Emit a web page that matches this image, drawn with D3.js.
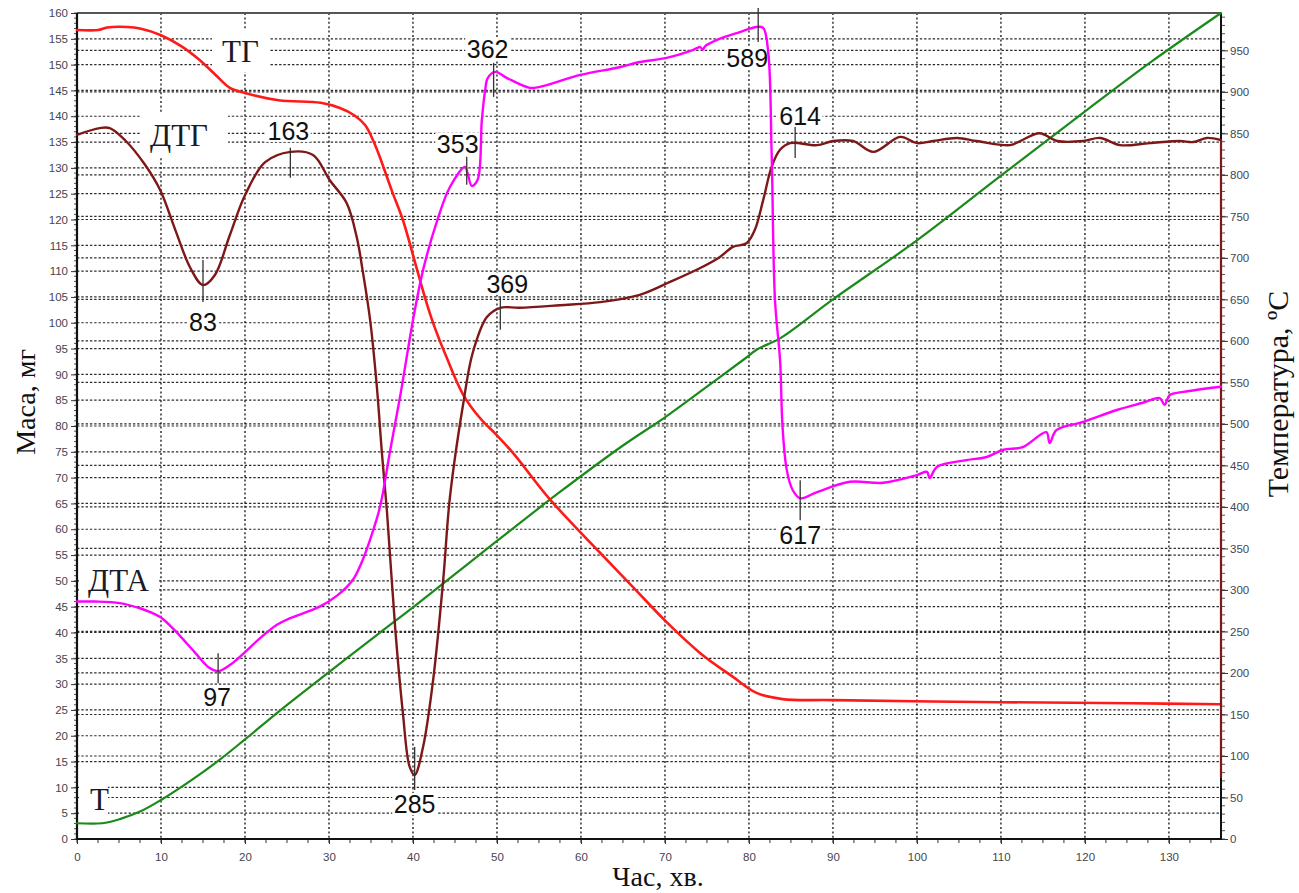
<!DOCTYPE html>
<html><head><meta charset="utf-8">
<script src="https://cdn.jsdelivr.net/npm/d3@7/dist/d3.min.js"></script>
<style>
html,body{margin:0;padding:0;background:#fff;}
svg{display:block;}
</style></head>
<body>
<svg id="chart" width="1299" height="893"></svg>
<script>
// ---------- DATA ----------
const timeTicks = [0,10,20,30,40,50,60,70,80,90,100,110,120,130];
const massTicks = d3.range(0,161,5);
const tempTicks = d3.range(0,951,50);

// TG (mass, mg) [time, value]
const tg = [[0,156.7],[2.5,156.7],[3.6,157.2],[6,157.3],[7.5,157],[10,155.7],[12.5,153.5],[14.6,150.9],[16.5,148],[18.2,145.5],[20,144.5],[24,143.1],[29,142.6],[31.3,141.6],[33,140.2],[34.3,138.3],[35.5,134.4],[36.3,131],[37.5,125.5],[38.8,119.9],[40.5,110.2],[41.5,104.5],[42.5,99.5],[44,93.3],[46,86],[48,81.5],[50,78.2],[52,74.6],[56.3,65.8],[62.3,55.4],[66.2,48.8],[70.2,42.0],[74.2,36],[78.1,31.4],[80.9,28.3],[84,27.1],[90,26.9],[110,26.5],[125.4,26.3],[136.2,26.1]];

// DTG (left-axis units); last point is the drop at the right edge
const dtg = [[0,136.4],[2.7,137.7],[3.9,137.7],[5.7,135.4],[8.1,130.6],[9.9,125.7],[11.7,118],[13.5,110.6],[15,107.3],[16.4,109.2],[18.2,117],[20,124.7],[22.4,131.1],[25.4,133.1],[28.1,132.5],[30.1,127.6],[32.1,123.2],[33.3,116.6],[34,110.2],[34.9,100.5],[35.7,87.6],[36.3,74.8],[36.9,63.5],[37.9,40.5],[38.8,24.4],[39.6,14],[40.2,12.4],[41.2,17.8],[42.4,30.8],[43.6,50.2],[44.4,66.2],[46,84.5],[47.1,94.1],[48.8,101.1],[50.4,102.9],[52.7,102.9],[57.5,103.4],[62.3,104],[67,105.4],[70.6,107.9],[74.2,110.6],[76.5,112.7],[78.1,114.7],[79.7,115.4],[80.7,118],[81.7,123.8],[82.7,130.2],[83.7,133.5],[84.9,134.8],[88.1,134.4],[90,135.2],[92.4,135.2],[94.8,133.1],[98,136],[100,134.8],[101.9,135.2],[104.8,135.8],[107.1,135.2],[111.1,134.4],[112.3,135.2],[114.6,136.7],[116.7,135.2],[119.8,135.2],[121.8,135.8],[124.2,134.4],[127.7,134.8],[131.3,135.2],[132.9,135],[134.5,135.8],[136.2,135.4],[136.2,12]];

// DTA (left-axis units)
const dta = [[0,46],[2.1,46],[5.1,45.7],[7.5,44.7],[8.8,43.9],[10,42.9],[11.7,40.3],[14,36.2],[15.8,33.1],[16.8,32.5],[18.2,33.7],[20,36.2],[21.8,38.9],[23.8,41.5],[25.4,42.8],[28.9,45],[31,47.2],[32.1,48.8],[33,50.6],[34,54],[35.2,59.5],[36.1,64.5],[37.3,75.4],[38.5,86],[40,100.5],[41.2,110.2],[42.9,119.9],[44.4,126.3],[46.2,130.2],[46.5,129],[47,126.5],[47.7,127.7],[48.2,139.3],[48.6,145.1],[48.9,147.4],[49.8,148.6],[51.2,147.4],[53.9,145.5],[55.1,145.7],[59.9,148],[64.6,149.5],[67,150.5],[70.2,151.3],[73.3,152.8],[74.2,153.4],[74.5,152.9],[74.8,153.6],[76.2,154.8],[78.9,156.3],[80.9,157.3],[81.7,157.1],[82.3,152.3],[82.7,132.9],[83.1,104.4],[83.7,92.8],[84,79.8],[84.5,71.5],[85.2,67.6],[86.1,66],[88.1,67.2],[92,69.2],[96,69],[100,70.5],[101.2,71.1],[101.5,69.9],[102.4,72.1],[105.9,73.4],[108.3,74],[110.3,75.4],[112.6,75.9],[115.4,78.8],[115.8,76.7],[116.6,79.2],[119.8,80.8],[123.8,83.1],[126.9,84.5],[128.9,85.4],[129.5,84.1],[130.1,86],[131.7,86.6],[136.2,87.6]];

// T (temperature, °C, right axis)
const temp = [[0,19],[3,19],[5.1,24],[7.5,33],[10,47],[13.5,70],[16.8,94],[20,120],[24.2,155],[30,201],[36,248],[40,279],[45,319],[50,359],[57.5,418],[65,474],[70,508],[75,545],[79.3,577],[81,590],[83.7,603],[90,650],[100,721],[110,799],[120.6,881],[128,937],[136.2,995]];

// Peak annotations: time, value (left units), label
const peakTimes  = [15, 25.4, 16.8, 40.2, 46.4, 49.6, 81.1, 85.5, 50.4, 86.1];
const peakValues = [107.3, 133.1, 32.5, 12.4, 130.2, 148.6, 157.3, 134.8, 102.9, 66];
const peakLabels = ["83","163","97","285","353","362","589","614","369","617"];

// Curve names
const seriesNames = ["ТГ","ДТГ","ДТА","Т"];

// ---------- LAYOUT ----------
const L = 77, R = 1221, T = 13, B = 839;
const svg = d3.select("#chart");
const x = d3.scaleLinear().domain([0,136.2]).range([L,R]);
const yL = d3.scaleLinear().domain([0,160]).range([B,T]);
const yR = d3.scaleLinear().domain([0,995]).range([B,T]);

// grid
const grid = svg.append("g");
grid.selectAll("line.hl").data(massTicks.filter(d=>d>0&&d<160)).enter().append("line")
  .attr("x1",L).attr("x2",R).attr("y1",d=>yL(d)).attr("y2",d=>yL(d))
  .attr("stroke","#2a2a2a").attr("stroke-width",1.2).attr("stroke-dasharray","2.4,1.9");
grid.selectAll("line.hr").data(tempTicks.filter(d=>d>0)).enter().append("line")
  .attr("x1",L).attr("x2",R).attr("y1",d=>yR(d)).attr("y2",d=>yR(d))
  .attr("stroke","#2a2a2a").attr("stroke-width",1.2).attr("stroke-dasharray","2.4,1.9");
grid.selectAll("line.v").data(timeTicks.filter(d=>d>0)).enter().append("line")
  .attr("y1",T).attr("y2",B).attr("x1",d=>x(d)).attr("x2",d=>x(d))
  .attr("stroke","#111").attr("stroke-width",1.3).attr("stroke-dasharray","2,2.4");

// label layout (pixel offsets relative to the peak point)
const peakLayout = {
  "83":{t1:-25,t2:17,dx:0,dy:46},
  "163":{t1:-4,t2:26,dx:-2,dy:-12},
  "97":{t1:-18,t2:12,dx:-1,dy:35},
  "285":{t1:-28,t2:15,dx:0,dy:38},
  "353":{t1:-10,t2:18,dx:-9,dy:-14},
  "362":{t1:-9,t2:25,dx:-6,dy:-14},
  "589":{t1:-19,t2:15,dx:-11,dy:40},
  "614":{t1:-16,t2:15,dx:5,dy:-18},
  "369":{t1:-11,t2:22,dx:7,dy:-15},
  "617":{t1:-18,t2:22,dx:0,dy:46}
};
const nameLayout = {
  "ТГ":{x:222,y:62,box:[212,30,58,42]},
  "ДТГ":{x:150,y:146,box:[140,112,88,46]},
  "ДТА":{x:88,y:591,box:[79,562,80,36]},
  "Т":{x:90,y:810,box:[79,780,29,38]}
};

// white boxes behind texts
const boxes = svg.append("g");
seriesNames.forEach(n=>{
  const b = nameLayout[n].box;
  boxes.append("rect").attr("x",b[0]).attr("y",b[1]).attr("width",b[2]).attr("height",b[3]).attr("fill","#fff");
});
peakLabels.forEach((lab,i)=>{
  const p = peakLayout[lab];
  const cx = x(peakTimes[i]) + p.dx, by = yL(peakValues[i]) + p.dy;
  const w = lab.length*13.6 + 4;
  boxes.append("rect").attr("x",cx-w/2).attr("y",by-20).attr("width",w).attr("height",22).attr("fill","#fff");
});

// axes
const axG = svg.append("g").attr("font-family","'DejaVu Sans', Verdana, sans-serif");
function styleAxis(g){
  g.select(".domain").remove();
  g.selectAll("text").attr("fill","#45454f").attr("font-size","11.5px");
  g.selectAll("line").attr("stroke","#333");
}
const minorB = d3.range(0,136.2,2.5);
axG.selectAll("line.mb").data(minorB).enter().append("line")
  .attr("x1",d=>x(d)).attr("x2",d=>x(d)).attr("y1",B).attr("y2",B+4).attr("stroke","#333");
const minorL = d3.range(0,160.1,1);
axG.selectAll("line.ml").data(minorL).enter().append("line")
  .attr("y1",d=>yL(d)).attr("y2",d=>yL(d)).attr("x1",L-3).attr("x2",L).attr("stroke","#555");
const minorR = d3.range(0,995,10);
axG.selectAll("line.mr").data(minorR).enter().append("line")
  .attr("y1",d=>yR(d)).attr("y2",d=>yR(d)).attr("x1",R).attr("x2",R+4).attr("stroke","#555");

axG.append("g").attr("transform",`translate(0,${B})`)
  .call(d3.axisBottom(x).tickValues(timeTicks).tickSize(5).tickPadding(9)).call(styleAxis);
axG.append("g").attr("transform",`translate(${L},0)`)
  .call(d3.axisLeft(yL).tickValues(massTicks).tickSize(6).tickPadding(3)).call(styleAxis);
axG.append("g").attr("transform",`translate(${R},0)`)
  .call(d3.axisRight(yR).tickValues(tempTicks).tickSize(7).tickPadding(2)).call(styleAxis);

// frame
svg.append("line").attr("x1",L).attr("x2",R).attr("y1",T).attr("y2",T).attr("stroke","#555").attr("stroke-width",2);
svg.append("line").attr("x1",R).attr("x2",R).attr("y1",T).attr("y2",B).attr("stroke","#111").attr("stroke-width",2);
svg.append("line").attr("x1",L).attr("x2",L).attr("y1",T).attr("y2",B+1).attr("stroke","#111").attr("stroke-width",2.2);
svg.append("line").attr("x1",L-1).attr("x2",R+1).attr("y1",B).attr("y2",B).attr("stroke","#111").attr("stroke-width",2.2);

// curves
const curve = d3.curveCatmullRom.alpha(0.5);
const lineL = d3.line().x(d=>x(d[0])).y(d=>yL(d[1])).curve(curve);
const lineLs = d3.line().x(d=>x(d[0])).y(d=>yL(d[1]));
const lineR = d3.line().x(d=>x(d[0])).y(d=>yR(d[1])).curve(curve);
const cg = svg.append("g").attr("fill","none").attr("stroke-linejoin","round").attr("stroke-linecap","round");
cg.append("path").attr("d",lineR(temp)).attr("stroke","#1a8a1a").attr("stroke-width",2.2);
cg.append("path").attr("d",lineL(tg)).attr("stroke","#ff1a1a").attr("stroke-width",2.6);
cg.append("path").attr("d",lineL(dtg.slice(0,-1))).attr("stroke","#7e1818").attr("stroke-width",2.4);
cg.append("path").attr("d",lineLs(dtg.slice(-2))).attr("stroke","#7e1818").attr("stroke-width",2.2);
cg.append("path").attr("d",lineL(dta)).attr("stroke","#ff00ff").attr("stroke-width",2.4);

// peak ticks & labels
const pg = svg.append("g");
peakLabels.forEach((lab,i)=>{
  const p = peakLayout[lab];
  const px = x(peakTimes[i]), py = yL(peakValues[i]);
  pg.append("line").attr("x1",px).attr("x2",px).attr("y1",py+p.t1).attr("y2",py+p.t2)
    .attr("stroke","#333").attr("stroke-width",1.3);
  pg.append("text").attr("x",px+p.dx).attr("y",py+p.dy).attr("text-anchor","middle")
    .attr("font-family","'Liberation Sans', Arial, sans-serif").attr("font-size","25px")
    .attr("fill","#111").text(lab);
});

// series names
seriesNames.forEach(n=>{
  const p = nameLayout[n];
  svg.append("text").attr("x",p.x).attr("y",p.y)
    .attr("font-family","'Liberation Serif', 'Times New Roman', serif").attr("font-size","31px")
    .attr("fill","#1a1a2a").text(n);
});

// axis titles
const serif = "'Liberation Serif', 'Times New Roman', serif";
svg.append("text").attr("transform","translate(35,402) rotate(-90)").attr("text-anchor","middle")
  .attr("font-family",serif).attr("font-size","28px").attr("fill","#111").text("Маса, мг");
svg.append("text").attr("transform","translate(1288,394) rotate(-90)").attr("text-anchor","middle")
  .attr("font-family",serif).attr("font-size","30px").attr("fill","#111").text("Температура, ºС");
svg.append("text").attr("x",658).attr("y",886).attr("text-anchor","middle")
  .attr("font-family",serif).attr("font-size","28px").attr("fill","#111").text("Час, хв.");
</script>
</body></html>
